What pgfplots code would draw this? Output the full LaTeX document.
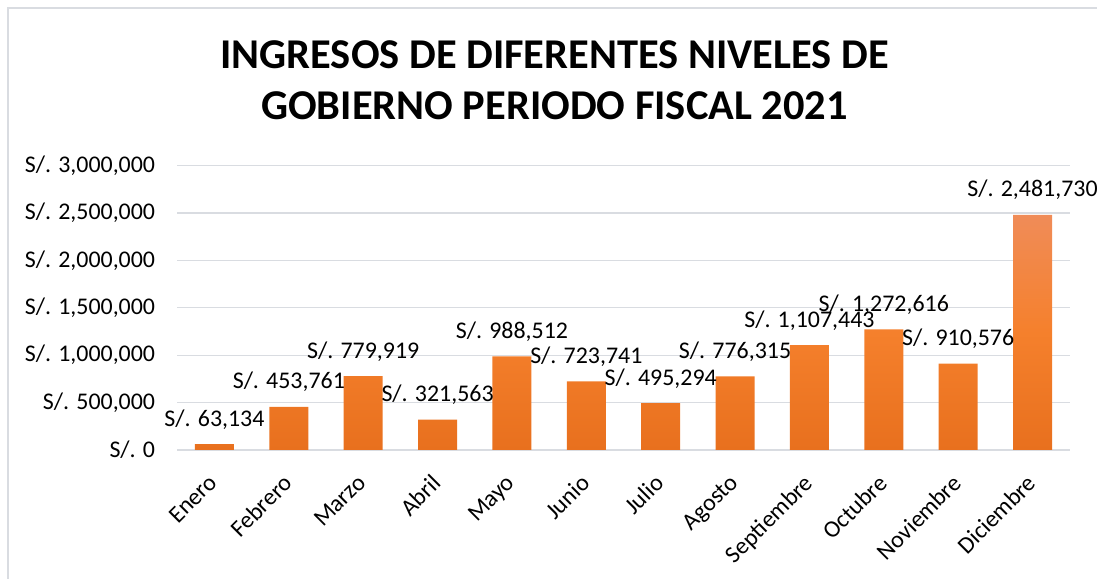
\documentclass[border=0pt]{standalone}
\usepackage{pgfplots}
\pgfplotsset{compat=1.18}
\usepackage{pgfplotstable}
\usepackage{fontspec}
\setmainfont{Carlito}
\definecolor{gridc}{RGB}{217,220,225}
\definecolor{bartop}{RGB}{240,140,88}
\definecolor{barmid}{RGB}{245,128,44}
\definecolor{barbot}{RGB}{232,112,30}
\pgfplotstableread{
x y lab
0 63134 63,134
1 453761 453,761
2 779919 779,919
3 321563 321,563
4 988512 988,512
5 723741 723,741
6 495294 495,294
7 776315 776,315
8 1107443 1,107,443
9 1272616 1,272,616
10 910576 910,576
11 2481730 2,481,730
}\datatab
\begin{document}
\begin{tikzpicture}[x=1bp,y=1bp]
\path[use as bounding box] (0,0) rectangle (1097,579);
\draw[gridc, line width=1.2bp] (8,0) -- (8,571) -- (1097,571);
\node[font=\fontsize{42.6}{51}\selectfont\bfseries, anchor=base] at (554.5,510) {INGRESOS DE DIFERENTES NIVELES DE};
\node[font=\fontsize{42.6}{51}\selectfont\bfseries, anchor=base] at (554.5,459) {GOBIERNO PERIODO FISCAL 2021};
\begin{axis}[
  at={(177.3bp,129bp)}, anchor=south west,
  scale only axis, width=892.4bp, height=284.3bp,
  xmin=-0.5, xmax=11.5, ymin=0, ymax=3000000,
  axis x line*=bottom, axis y line*=left,
  separate axis lines,
  x axis line style={gridc, line width=1.2bp, -},
  y axis line style={draw=none},
  major tick length=0,
  ymajorgrids, grid style={gridc, line width=1.2bp},
  ytick={0,500000,1000000,1500000,2000000,2500000,3000000},
  yticklabels={{S/. 0},{S/. 500,000},{S/. 1,000,000},{S/. 1,500,000},{S/. 2,000,000},{S/. 2,500,000},{S/. 3,000,000}},
  scaled y ticks=false,
  xtick={0,...,11},
  xticklabels={Enero,Febrero,Marzo,Abril,Mayo,Junio,Julio,Agosto,Septiembre,Octubre,Noviembre,Diciembre},
  yticklabel style={font=\fontsize{24}{28}\selectfont, anchor=east, inner sep=0pt, xshift=-22bp},
  xticklabel style={font=\fontsize{24}{28}\selectfont, inner sep=0pt, xshift=-7bp, yshift=-23bp, rotate=45, anchor=north east},
  clip=false,
]
\addplot[ybar, bar width=39bp, draw=none,
  top color=bartop, bottom color=barbot, middle color=barmid,
  point meta=explicit symbolic,
  nodes near coords={S/. \pgfplotspointmeta},
  nodes near coords style={font=\fontsize{24}{28}\selectfont, anchor=base, inner sep=0pt, yshift=18bp, text=black},
] table[x=x, y=y, meta=lab] {\datatab};
\end{axis}
\end{tikzpicture}
\end{document}
